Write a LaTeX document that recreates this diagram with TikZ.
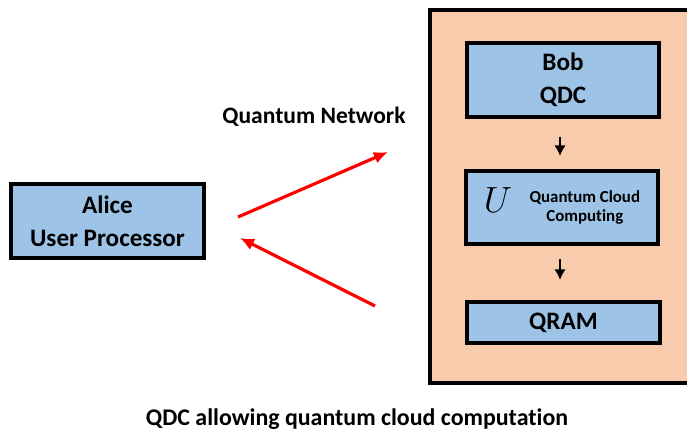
\documentclass[tikz,border=0pt]{standalone}
\usepackage{fontspec}
\setmainfont{Carlito}[Ligatures=NoCommon]
\usetikzlibrary{arrows.meta}
\definecolor{boxblue}{HTML}{9DC3E6}
\definecolor{peach}{HTML}{F8CBAD}
\definecolor{netred}{HTML}{FF0000}
\tikzset{
  bluebox/.style={draw=black, fill=boxblue, line width=1.9pt, align=center,
    inner sep=0pt, font=\fontsize{14.3}{18.8}\selectfont\bfseries},
  netarrow/.style={draw=netred, line width=1.8pt, -{Latex[length=8pt,width=7pt]}},
  smallarrow/.style={line width=1.2pt, -{Latex[length=6pt,width=6.5pt]}}
}
\begin{document}
\begin{tikzpicture}[x=0.02cm, y=-0.02cm]
  \clip (0,0) rectangle (687,432);

  % QDC container
  \draw[fill=peach, line width=1.9pt] (430,10) rectangle (700,383);

  \node[bluebox, minimum width=3.84cm, minimum height=1.48cm] (bob) at (563,80) {Bob\\QDC};
  \node[bluebox, minimum width=3.84cm, minimum height=1.46cm] (cloud) at (562,207.5)
    {{\fontsize{22}{22}\selectfont\mdseries$U$}\hspace{10pt}%
     {\fontsize{9.6}{11.6}\selectfont\begin{tabular}{@{}c@{}}Quantum Cloud\\[-1pt]Computing\end{tabular}}};
  \node[bluebox, minimum width=3.86cm, minimum height=0.82cm] (qram) at (563.5,322.5) {QRAM};

  \coordinate (a1s) at (560,137);
  \coordinate (a1e) at (560,156);
  \coordinate (a2s) at (560,259);
  \coordinate (a2e) at (560,280);
  \draw[smallarrow] (a1s) -- (a1e);
  \draw[smallarrow] (a2s) -- (a2e);

  % user side
  \node[bluebox, minimum width=3.86cm, minimum height=1.48cm] (alice) at (107.5,221) {Alice\\User Processor};

  \coordinate (out0) at (238,217);
  \coordinate (out1) at (388,152);
  \coordinate (in0) at (375,306);
  \coordinate (in1) at (240,238);
  \draw[netarrow] (out0) -- (out1);
  \draw[netarrow] (in0) -- (in1);

  \node[font=\fontsize{13.4}{15}\selectfont\bfseries] (net) at (314,117) {Quantum Network};
  \node[font=\fontsize{13.6}{16}\selectfont\bfseries] (caption) at (357,419) {QDC allowing quantum cloud computation};
\end{tikzpicture}
\end{document}
